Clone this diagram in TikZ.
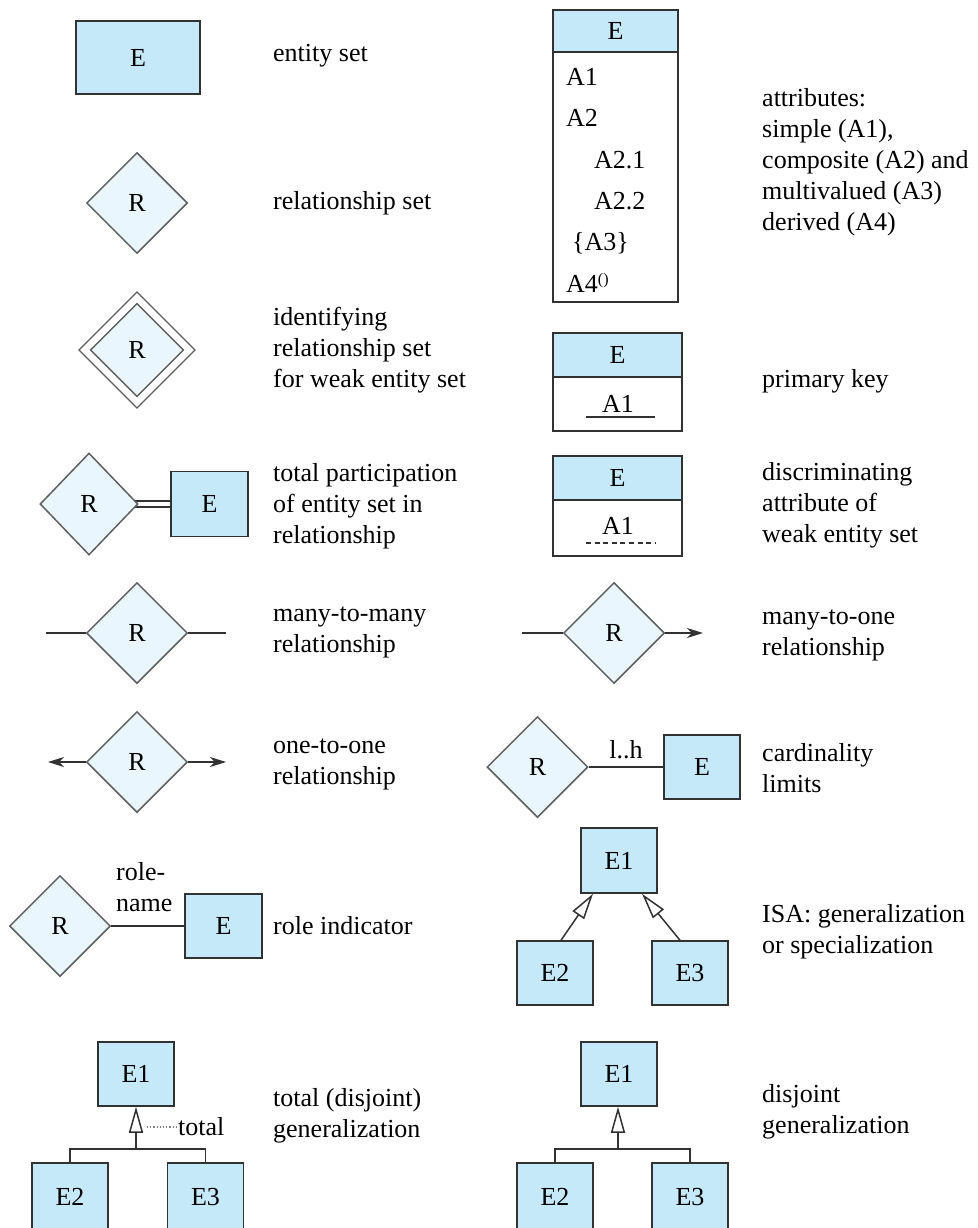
\documentclass[tikz,border=0pt]{standalone}
\usepackage{fontspec}
\setmainfont{Liberation Serif}
\usetikzlibrary{shapes.geometric, arrows.meta, backgrounds}

\definecolor{entfill}{RGB}{198,233,250}
\definecolor{relfill}{RGB}{233,246,253}
\definecolor{edgegray}{RGB}{50,50,50}
\definecolor{relgray}{RGB}{95,95,95}

\tikzset{
  ent/.style={draw=edgegray, fill=entfill, line width=1.5pt, minimum width=76pt, minimum height=64pt, inner sep=0pt},
  attrbody/.style={draw=edgegray, fill=white, line width=1.5pt, inner sep=0pt},
  rel/.style={diamond, aspect=1, draw=relgray, fill=relfill, line width=1.5pt, minimum width=101pt, minimum height=101pt, inner sep=0pt},
  lbl/.style={anchor=west, align=left, inner sep=0pt},
  conn/.style={draw=edgegray, line width=1.5pt},
  isa/.style={conn, -{Triangle[open, length=26pt, width=14pt]}},
  >={Stealth[length=16pt, width=10pt, inset=5pt]},
}

\begin{document}
\begin{tikzpicture}[x=1pt, y=-1pt, font=\fontsize{26}{31}\selectfont]
\useasboundingbox (0,0) rectangle (977,1228);

% left column
\node[ent, minimum width=124pt, minimum height=73pt] (es) at (138,57.5) {E};
\node[lbl] (esl) at (273,56) {entity set};

\node[rel] (rs) at (137,203) {R};
\node[lbl] (rsl) at (273,203) {relationship set};

\node[rel, double, double distance=6.5pt, minimum width=105pt, minimum height=105pt] (irs) at (137,350) {R};
\node[lbl] (irsl) at (273,350) {identifying\\relationship set\\for weak entity set};

\node[rel, minimum width=98pt, minimum height=102pt] (tp) at (89,504) {R};
\node[ent, minimum width=77pt, minimum height=65pt] (tpe) at (209.5,504) {E};
\begin{scope}[on background layer]
\draw[conn, double, double distance=4.5pt] (tp.center) -- (tpe.center);
\end{scope}
\node[lbl] (tpl) at (273,506) {total participation\\of entity set in\\relationship};

\node[rel] (mm) at (137,633) {R};
\coordinate (mmw) at (46,633);
\coordinate (mme) at (226,633);
\draw[conn] (mmw) -- (mm.west) (mm.east) -- (mme);
\node[lbl] (mml) at (273,632) {many-to-many\\relationship};

\node[rel] (oo) at (137,762) {R};
\coordinate (oow) at (48,762);
\coordinate (ooe) at (226,762);
\draw[conn, ->] (oo.west) -- (oow);
\draw[conn, ->] (oo.east) -- (ooe);
\node[lbl] (ool) at (273,764) {one-to-one\\relationship};

\node[rel] (ri) at (60,926) {R};
\node[ent, minimum width=77pt] (rie) at (223.5,926) {E};
\draw[conn] (ri.east) -- (rie.west);
\node[lbl] (rin) at (116,887) {role-\\name};
\node[lbl] (ril) at (273,926) {role indicator};

% total generalization
\node[ent] (tg1) at (136,1074) {E1};
\node[ent, minimum height=68pt] (tg2) at (70,1197) {E2};
\node[ent, minimum height=68pt] (tg3) at (205.5,1197) {E3};
\coordinate (tgj) at (136,1149);
\draw[conn] (tg2.north) |- (tgj) -| (tg3.north);
\draw[isa] (tgj) -- (tg1.south);
\coordinate (tgd) at (147,1127);
\node[lbl] (tgt) at (178,1127) {total};
\draw[dotted, gray, line width=1.2pt] (tgd) -- (tgt.west);
\node[lbl] (tgl) at (273,1116) {total (disjoint)\\generalization};

% right column
\node[ent, minimum width=125pt, minimum height=42pt] (ah) at (615.5,31) {E};
\node[attrbody, minimum width=125pt, minimum height=250pt] (ab) at (615.5,177) {};
\node[lbl] (a1) at (566,77) {A1};
\node[lbl] (a2) at (566,118) {A2};
\node[lbl] (a21) at (594,160) {A2.1};
\node[lbl] (a22) at (594,201) {A2.2};
\node[lbl] (a3) at (572,243) {\{A3\}};
\node[lbl] (a4) at (566,283) {A4\raisebox{0.3em}{\fontsize{16}{16}\selectfont()}};
\node[lbl] (attl) at (762,162) {attributes:\\simple (A1),\\composite (A2) and\\multivalued (A3)\\derived (A4)};

\node[ent, minimum width=129pt, minimum height=44pt] (pkh) at (617.5,355) {E};
\node[attrbody, minimum width=129pt, minimum height=54pt] (pkb) at (617.5,404) {};
\node (pka) at (618,404) {A1};
\draw[conn] (586,417) -- (655,417);
\node[lbl] (pkl) at (762,381) {primary key};

\node[ent, minimum width=129pt, minimum height=44pt] (dah) at (617.5,478) {E};
\node[attrbody, minimum width=129pt, minimum height=56pt] (dab) at (617.5,528) {};
\node (daa) at (618,526) {A1};
\draw[conn, line width=1.2pt, dash pattern=on 5pt off 3.6pt] (586,543) -- (655,543);
\node[lbl] (dal) at (762,505) {discriminating\\attribute of\\weak entity set};

\node[rel] (mo) at (614,633) {R};
\coordinate (mow) at (522,633);
\coordinate (moe) at (703,633);
\draw[conn] (mow) -- (mo.west);
\draw[conn, ->] (mo.east) -- (moe);
\node[lbl] (mol) at (762,635) {many-to-one\\relationship};

\node[rel] (cl) at (537.5,767) {R};
\node[ent] (cle) at (702,767) {E};
\draw[conn] (cl.east) -- node[above, inner sep=7pt] {l..h} (cle.west);
\node[lbl] (cll) at (762,768) {cardinality\\limits};

% ISA
\node[ent, minimum height=65pt] (isa1) at (619,860.5) {E1};
\node[ent] (isa2) at (555,973) {E2};
\node[ent] (isa3) at (690,973) {E3};
\draw[isa] ([xshift=6pt]isa2.north) -- ([xshift=-26pt]isa1.south);
\draw[isa] ([xshift=-10pt]isa3.north) -- ([xshift=23pt]isa1.south);
\node[lbl] (isal) at (762,932) {ISA: generalization\\or specialization};

% disjoint generalization
\node[ent] (dg1) at (619,1074) {E1};
\node[ent, minimum height=68pt] (dg2) at (555,1197) {E2};
\node[ent, minimum height=68pt] (dg3) at (690,1197) {E3};
\coordinate (dgj) at (618,1149);
\draw[conn] (dg2.north) |- (dgj) -| (dg3.north);
\draw[isa] (dgj) -- (dg1.south -| dgj);
\node[lbl] (dgl) at (762,1112) {disjoint\\generalization};
\end{tikzpicture}
\end{document}
